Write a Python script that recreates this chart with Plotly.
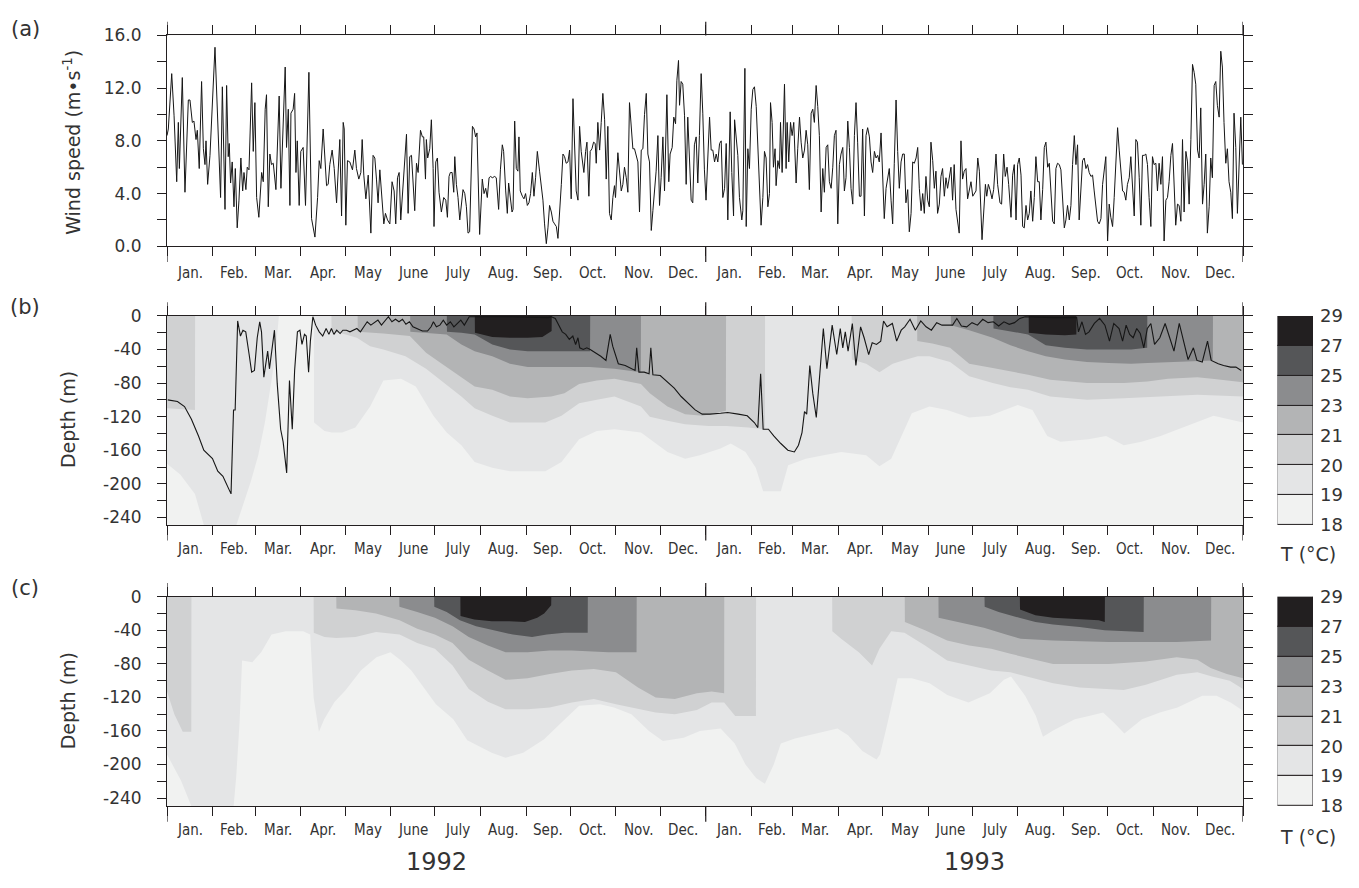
import plotly.graph_objects as go

W, H = 1359, 888

# ------------------------------------------------------------------ data
month_names = ["Jan.", "Feb.", "Mar.", "Apr.", "May", "June", "July", "Aug.", "Sep.", "Oct.", "Nov.", "Dec."]
month_start_days = [0, 31, 60, 91, 121, 152, 182, 213, 244, 274, 305, 335,
                    366, 397, 425, 456, 486, 517, 547, 578, 609, 639, 670, 700, 731]
year_labels = ["1992", "1993"]

temp_levels = ["18", "19", "20", "21", "23", "25", "27", "29"]
band_colors = ["#f1f2f1", "#e4e5e6", "#d0d1d2", "#b3b4b5", "#8b8c8e", "#555658", "#221f20"]

# daily wind speed (m/s), day 0 = 1 Jan 1992
wind_day = [
    0.0, 0.9, 3.2, 4.8, 6.6, 7.7, 8.4, 10.4, 12.2, 14.5,
    15.6, 17.2, 18.3, 19.7, 20.6, 21.9, 23.5, 24.7, 25.8, 26.5,
    27.6, 29.2, 32.6, 34.2, 36.4, 37.6, 39.4, 40.5, 41.6, 42.3,
    43.2, 44.3, 45.5, 46.4, 47.7, 48.9, 50.2, 51.4, 52.3, 53.6,
    54.5, 55.7, 57.5, 58.6, 59.7, 60.9, 62.4, 64.3, 65.4, 66.7,
    67.6, 68.8, 69.9, 71.0, 72.2, 74.0, 76.2, 77.4, 79.0, 80.3,
    81.2, 82.4, 83.5, 84.2, 85.7, 86.7, 87.6, 88.5, 89.8, 90.9,
    92.5, 94.1, 96.4, 98.2, 100.5, 102.3, 103.4, 104.5, 106.1, 107.2,
    108.4, 109.5, 110.6, 112.2, 113.6, 115.2, 116.3, 117.4, 118.6, 119.7,
    120.4, 121.5, 122.6, 124.2, 126.0, 127.6, 128.7, 130.3, 131.7, 132.6,
    133.7, 135.1, 136.7, 138.5, 140.0, 141.2, 142.3, 143.4, 144.6, 146.2,
    147.3, 148.4, 149.8, 151.4, 152.9, 154.3, 155.4, 156.6, 157.7, 158.8,
    160.4, 161.5, 162.7, 163.8, 164.9, 166.1, 167.2, 168.3, 169.5, 170.6,
    172.2, 173.5, 174.4, 175.6, 176.2, 177.1, 178.5, 179.6, 180.8, 181.4,
    182.6, 183.7, 184.8,
    186.4, 188.0, 189.4, 190.5, 191.6, 192.5, 193.7, 194.8, 195.5, 196.6,
    197.7, 198.9, 200.0, 201.1, 202.3, 203.4, 204.5, 205.6, 207.5, 208.6,
    209.7, 210.6, 212.4, 214.2, 215.4, 216.5, 217.6, 218.8, 219.9, 221.0,
    222.6, 223.7, 225.3, 226.5, 227.8, 228.7, 230.1, 231.2, 232.1, 233.2,
    234.4, 235.1, 236.2, 237.3, 238.4, 239.1, 240.0, 241.4, 242.5, 243.6,
    244.8, 245.9, 247.0, 248.2, 249.3, 250.4, 251.6, 253.1, 254.3, 255.4,
    256.5, 257.7, 258.8, 259.9, 261.1, 262.2, 263.3, 264.5, 265.6, 266.7,
    267.9, 269.0, 270.1, 271.2, 272.4, 273.5, 274.6, 275.8, 276.9, 278.0,
    279.2, 280.3, 281.4, 282.6, 283.2, 284.4, 285.3, 286.6, 287.5, 288.7,
    289.8, 290.9, 291.6, 292.7, 293.9, 295.0, 296.1, 297.3, 298.4, 299.5,
    300.6, 301.8, 302.9, 304.0, 304.7, 306.3, 307.4, 308.6, 309.7, 310.8,
    312.0, 313.1, 314.2, 315.4, 316.5, 317.6, 318.7, 319.9, 321.0, 322.2,
    323.3, 324.4, 325.6, 326.7, 327.8, 329.0, 330.1, 331.2, 332.3, 333.5,
    334.6, 335.7, 336.9, 338.0, 339.6, 340.9, 341.8, 343.2, 344.3, 345.5,
    346.4, 347.5, 348.2, 349.3, 350.4, 351.6, 352.7, 353.8, 354.9, 356.1,
    357.2, 358.3, 359.5, 360.6, 361.7, 362.9, 364.0, 365.1, 366.2, 367.4,
    368.6, 369.7, 370.8, 372.0, 373.1, 374.2, 375.4, 376.5, 377.6, 378.8,
    379.9, 381.0, 382.6, 383.7, 384.9, 385.6, 386.7, 387.8, 388.9, 390.5,
    391.2, 392.6, 393.5, 394.6, 395.7, 396.9, 398.0, 399.1, 400.3, 401.4,
    402.5, 403.6, 404.8, 405.9, 407.0, 408.2, 409.3, 410.0, 411.1, 412.0,
    413.1, 413.8, 415.0, 416.1, 416.8, 417.9, 419.5, 420.6, 421.3, 422.4,
    423.6, 424.7, 425.8, 427.4, 428.5, 429.7, 430.8, 431.9, 433.1, 434.2,
    435.3, 436.4, 437.6, 438.7, 439.8, 441.0, 442.1, 443.2, 444.4, 445.5,
    446.6, 447.8, 448.9, 450.0, 451.2, 452.3, 453.4, 454.5, 455.7, 456.8,
    457.9, 459.1, 460.2, 461.3, 462.5, 463.6, 464.7, 465.9, 467.0, 468.1,
    469.2, 470.4, 471.5, 472.6, 473.8, 474.9, 476.0, 477.2, 478.3, 479.4,
    480.6, 481.7, 482.8, 483.9, 485.1, 486.2, 487.3, 488.5, 489.6, 490.7,
    491.9, 493.0, 494.1, 495.3, 496.4, 497.5, 498.7, 499.8, 500.9, 502.0,
    503.2, 504.3, 505.5, 506.6, 507.7, 508.9, 510.0, 511.1, 512.3, 513.4,
    514.5, 515.6, 516.8, 517.9, 519.0, 520.2, 521.3, 522.4, 523.5, 524.7,
    525.8, 526.9, 528.1, 529.2, 530.3, 531.5, 532.6, 533.7, 534.8, 536.0,
    537.1, 538.2, 539.4, 540.5, 541.6, 542.8, 543.9, 545.0,
    546.2, 547.4, 548.5, 549.6, 550.8, 551.9, 553.7, 554.8, 556.0, 556.9,
    558.0, 559.1, 560.5, 561.6, 563.2, 564.3, 565.9, 567.0, 568.4, 569.5,
    570.7, 571.8, 573.4, 574.5, 575.6, 576.8, 577.9, 579.0, 580.2, 581.3,
    582.4, 583.6, 584.7, 585.8, 586.9, 588.1, 589.2, 590.3, 591.5, 592.6,
    593.7, 594.9, 596.0, 597.1, 598.3, 599.4, 600.5, 601.7, 602.8, 603.9,
    605.0, 606.2, 607.3, 608.4, 609.6, 610.7, 611.8, 613.0, 614.1, 615.2,
    616.4, 617.5, 618.6, 619.7, 620.9, 622.0, 623.1, 624.3, 625.4, 626.5,
    627.7, 628.8, 629.9, 631.1, 632.2, 633.3, 634.5, 635.6, 636.7, 637.8,
    639.0, 640.1, 641.2, 642.4, 643.5, 644.6, 645.8, 646.9, 648.0, 649.2,
    650.3, 651.4, 652.5, 653.7, 654.8, 655.9, 657.1, 658.2, 659.3, 660.5,
    661.6, 662.7, 663.9, 665.0, 666.1, 667.2, 668.4, 669.5, 670.6, 671.8,
    672.9, 674.0, 675.2, 676.3, 677.4, 678.6, 679.7, 680.8, 682.0, 683.1,
    684.2, 685.3, 686.5, 687.6, 688.8, 689.9, 691.0, 692.2, 693.3, 694.4,
    695.6, 696.7, 697.8, 698.9, 700.1, 701.2, 702.3, 703.5, 704.6, 705.7,
    706.8, 708.0, 709.1, 710.2, 711.4, 712.5, 713.6, 714.8, 715.9, 717.0,
    718.1, 719.3, 720.4, 721.5, 722.7, 723.8, 724.9, 726.1, 727.2, 728.3,
    729.5, 730.6,
]
wind_speed = [
    8.4, 8.9, 13.1, 9.9, 4.9, 9.4, 5.9, 12.8, 4.1, 11.1,
    11.1, 9.4, 9.5, 8.1, 8.8, 5.9, 12.5, 7.4, 6.2, 8.0,
    4.7, 6.9, 15.1, 10.6, 3.7, 12.1, 2.8, 12.2, 6.8, 7.8,
    4.8, 6.4, 3.0, 5.9, 1.4, 3.5, 6.7, 4.2, 5.6, 4.3,
    6.0, 5.8, 12.4, 7.2, 10.9, 3.7, 2.2, 5.6, 4.9, 10.4,
    11.5, 3.0, 7.0, 6.2, 6.3, 4.3, 11.4, 4.4, 8.9, 13.6,
    7.5, 10.4, 3.1, 10.1, 10.4, 11.6, 5.6, 8.0, 3.1, 7.2,
    7.5, 3.1, 13.2, 2.1, 0.7, 3.7, 6.5, 5.9, 8.9, 6.9,
    4.6, 4.7, 6.2, 7.3, 5.9, 3.3, 6.2, 8.1, 2.3, 9.4,
    8.9, 1.6, 6.5, 6.4, 5.8, 7.3, 5.9, 5.1, 5.6, 8.1,
    5.4, 3.6, 5.4, 1.0, 6.9, 6.7, 5.1, 3.3, 5.8, 3.5,
    1.7, 2.5, 2.0, 1.7, 4.9, 4.2, 1.7, 5.2, 5.6, 2.0,
    4.7, 6.9, 8.5, 2.5, 6.8, 6.9, 4.9, 2.7, 6.3, 5.6,
    8.8, 8.3, 8.3, 5.1, 8.1, 6.7, 7.4, 9.6, 5.9, 1.5,
    6.4, 6.7, 4.1,
    2.6, 3.7, 3.5, 2.2, 5.3, 5.6, 5.6, 4.1, 6.8, 4.7,
    3.7, 2.0, 3.2, 4.3, 4.0, 3.0, 1.0, 1.1, 9.1, 8.9,
    8.3, 8.6, 0.9, 5.1, 4.0, 4.4, 3.7, 5.2, 5.3, 5.2,
    5.3, 5.2, 2.8, 5.8, 7.7, 7.2, 4.2, 2.5, 4.8, 3.5,
    2.6, 2.8, 9.5, 5.9, 5.7, 8.3, 4.2, 3.8, 3.6, 4.0,
    3.1, 3.3, 4.0, 5.6, 3.8, 5.2, 7.2, 5.7, 4.4, 3.5,
    1.7, 0.2, 1.4, 3.1, 2.6, 1.9, 1.7, 1.5, 0.6, 3.1,
    4.7, 7.0, 6.8, 6.3, 6.4, 7.3, 3.6, 11.2, 8.3, 4.2,
    3.5, 9.1, 7.2, 5.8, 5.6, 7.2, 7.9, 3.8, 7.2, 7.4,
    7.9, 7.8, 6.3, 9.4, 7.3, 9.4, 11.6, 9.6, 5.1, 9.1,
    2.5, 2.0, 3.7, 4.6, 3.7, 7.1, 5.7, 4.2, 4.7, 6.0,
    5.2, 4.1, 10.9, 9.4, 7.4, 7.4, 6.8, 6.4, 2.6, 7.3,
    7.4, 10.0, 11.6, 7.0, 6.4, 1.2, 2.7, 4.0, 5.7, 8.4,
    3.1, 5.2, 8.3, 4.2, 11.5, 4.9, 7.0, 7.5, 9.8, 9.3,
    12.6, 14.1, 10.7, 12.5, 12.3, 9.9, 4.7, 9.8, 6.0, 3.5,
    3.3, 7.7, 8.3, 4.8, 8.4, 13.1, 10.1, 5.8, 3.5, 6.2,
    9.8, 7.3, 7.3, 6.4, 7.0, 6.4, 7.8, 8.0, 3.7, 4.4,
    7.8, 2.0, 10.2, 5.6, 2.3, 9.6, 8.4, 6.9, 3.7, 2.0,
    2.7, 13.5, 1.5, 7.4, 5.9, 10.4, 11.9, 12.1, 10.6, 7.2,
    4.4, 1.6, 3.7, 7.2, 6.7, 3.0, 4.0, 10.9, 9.4, 6.0,
    7.4, 4.6, 6.5, 5.9, 9.4, 5.6, 12.3, 5.9, 9.4, 6.4,
    9.4, 8.4, 9.4, 4.8, 7.4, 9.8, 7.9, 6.7, 7.3, 8.8,
    7.7, 4.3, 10.1, 10.4, 9.4, 12.2, 10.6, 8.4, 2.6, 5.9,
    4.1, 7.5, 7.7, 4.9, 4.4, 6.0, 8.4, 8.8, 1.7, 6.2,
    7.0, 7.5, 4.2, 5.2, 9.5, 7.5, 4.4, 3.2, 8.4, 10.9,
    7.9, 3.8, 3.8, 8.9, 2.3, 8.4, 9.0, 8.3, 6.4, 5.6,
    7.2, 6.7, 6.9, 6.4, 8.6, 4.4, 2.1, 4.4, 5.2, 5.9,
    3.5, 1.7, 6.3, 11.1, 7.2, 4.4, 6.4, 7.0, 7.0, 3.3,
    4.3, 1.1, 2.5, 6.4, 6.3, 6.7, 7.5, 4.4, 2.7, 4.0,
    2.5, 5.3, 3.5, 3.0, 7.9, 6.5, 4.4, 5.7, 2.5, 3.2,
    5.3, 5.9, 3.8, 5.2, 4.4, 5.1, 6.0, 3.5, 6.2, 2.8,
    2.0, 1.0, 8.0, 5.1, 5.7, 5.9, 3.6, 4.4,
    4.9, 3.8, 4.0, 4.2, 6.7, 5.7, 0.5, 3.0, 4.7, 3.8,
    4.7, 4.3, 3.6, 4.3, 7.0, 4.7, 3.3, 3.2, 7.0, 5.3,
    6.0, 4.7, 2.2, 5.4, 6.2, 2.0, 6.2, 6.7, 5.4, 1.5,
    1.4, 3.1, 2.0, 2.5, 4.2, 1.9, 3.7, 6.8, 4.9, 4.9,
    2.0, 4.3, 7.5, 7.9, 6.0, 6.3, 4.4, 1.9, 1.7, 5.9,
    6.3, 6.2, 5.8, 3.7, 1.4, 2.0, 3.1, 2.0, 3.1, 6.2,
    8.4, 6.2, 7.7, 2.0, 4.9, 6.5, 6.7, 5.9, 6.2, 5.6,
    5.3, 5.4, 4.2, 3.0, 1.9, 1.7, 2.1, 4.7, 5.9, 6.8,
    0.4, 3.2, 2.2, 1.5, 3.7, 6.9, 9.0, 7.3, 5.7, 4.2,
    4.1, 3.5, 4.7, 5.2, 6.8, 4.2, 2.3, 8.1, 7.9, 5.2,
    1.6, 6.9, 6.9, 7.0, 6.2, 3.7, 1.5, 6.8, 6.2, 6.3,
    4.2, 6.3, 4.7, 6.8, 0.4, 3.5, 3.7, 4.9, 6.9, 7.8,
    4.4, 1.6, 3.2, 3.1, 1.9, 8.1, 2.6, 7.2, 6.4, 3.2,
    8.1, 13.8, 13.2, 12.3, 7.3, 6.7, 10.5, 3.2, 4.7, 7.0,
    1.0, 3.0, 6.7, 5.2, 12.2, 12.5, 10.7, 9.8, 14.8, 13.6,
    9.4, 6.3, 7.4, 4.9, 4.1, 2.1, 10.1, 7.5, 2.5, 6.2,
    9.8, 6.2,
]

# mixed-layer depth (m) drawn in panel (b)
mld_day = [
    0.5, 7.1, 11.9, 16.6, 21.4, 25, 30.9, 34.5, 38, 41.6,
    43.5, 45.2, 46.3, 48, 49.9, 51.6, 53.5, 55.8, 57.5, 59.4,
    61.3, 63, 64.2, 65.8, 67.3, 68.4, 69.6, 71.3, 73, 74.9,
    77.2, 78.9, 81.3, 83.2, 85.1, 86.7, 88.6, 90.3, 91.7, 93.4,
    94.6, 96.2, 97.4, 99.1, 101, 103.4, 105.8, 108.1, 110, 111.7,
    113.4, 115.3, 117.6, 119.5, 121.9, 124.3, 126.7, 129, 131.4, 133.6,
    136, 138.5, 140.8, 143.3, 145.7, 148, 150.4, 152.8, 155.2, 157.6,
    160, 162.3, 164.7, 167.1, 170, 173.5, 177, 179.4, 181, 183,
    185.4, 187.7, 190, 192.5, 194.9, 197.2, 199.6, 202, 204.4, 205.3,
    209, 233, 259, 261.2, 263.8, 266, 268.5, 270.9, 273.3, 275.7,
    277.6, 279.2, 280.4, 282.8, 285.2, 287.5, 291.1, 294.7, 298.2, 301.1,
    302.8, 306.6, 311.3, 316.1, 318, 319.1, 320.6, 324.2, 327.5, 328.7,
    330.1, 335.1, 339.8, 344.6, 349.3, 354.1, 358.8, 363.6, 368.9, 376.1,
    380.9, 388.1, 394.2, 399, 401.4, 403.3, 405, 408.6, 412.2, 417,
    421.8, 426.2, 429, 431.4, 433.1, 434.6, 436.7, 438.7, 441.1, 443.5,
    445.9, 448.3, 451.9, 455, 457.4, 459.1, 460.8, 462.7, 465.6, 468,
    471.2, 473.6, 476.7, 479.1, 482, 484.9, 486.8, 489.2, 492.8, 495.7,
    498.8, 501.2, 504.8, 508.4, 512.1, 515.7, 519.3, 522.9, 526.5, 530.1,
    533.7, 536.6, 539.7, 543.3, 546.9, 550.6, 554.2, 557.8, 561.4, 565,
    568.6, 572.2, 575.8, 579.4, 583, 602.3, 618, 619.2, 621.6, 624,
    626.4, 630, 633.6, 637.2, 640.3, 643.2, 646.8, 649.2, 651.6, 654,
    656.4, 658.8, 661.2, 663.6, 666, 668.4, 670.9, 674.5, 678.1, 681.2,
    684.1, 687.7, 690.8, 693.7, 697.3, 699.7, 703.3, 706.9, 709.4, 714.2,
    717.8, 722.6, 726.2, 729.8,
]
mld_depth = [
    -100, -102, -108, -123, -143, -160, -170, -185, -191, -205,
    -212, -112, -112, -6, -24, -17, -19, -46, -67, -65,
    -26, -7, -19, -73, -57, -42, -63, -38, -17, -81,
    -135, -150, -187, -77, -135, -65, -19, -17, -34, -22,
    -24, -67, -30, -1, -11, -19, -24, -15, -22, -15,
    -22, -17, -21, -17, -17, -19, -17, -15, -19, -13,
    -7, -11, -8, -5, -11, -6, -1, -7, -4, -7,
    -4, -10, -7, -13, -15, -18, -18, -13, -7, -13,
    -11, -5, -11, -7, -13, -9, -5, -11, -3, -1,
    -1, -1, -2, -1, -3, -11, -19, -22, -28, -24,
    -34, -26, -38, -40, -38, -40, -44, -48, -53, -22,
    -36, -57, -59, -63, -65, -38, -67, -67, -69, -38,
    -70, -71, -79, -86, -96, -104, -112, -117, -117, -116,
    -115, -117, -119, -127, -133, -69, -135, -135, -143, -152,
    -160, -162, -154, -139, -114, -117, -59, -92, -121, -69,
    -15, -63, -11, -46, -15, -38, -19, -42, -9, -59,
    -13, -26, -46, -32, -34, -30, -6, -13, -9, -30,
    -17, -13, -4, -17, -6, -13, -17, -8, -11, -11,
    -11, -3, -12, -13, -8, -11, -4, -8, -7, -12,
    -7, -10, -8, -3, -1, -2, -2, -19, -7, -22,
    -19, -9, -3, -11, -30, -9, -15, -30, -11, -22,
    -26, -15, -21, -38, -15, -9, -34, -26, -9, -26,
    -42, -9, -30, -52, -38, -53, -55, -30, -53, -57,
    -59, -61, -61, -65,
]

# isotherm depths (m), panel (b)
iso19_b_day = [0, 9, 19, 26, 46, 52, 57, 62, 66.5, 71, 74, 76, 99.8, 99.9, 107, 112, 119, 128, 138, 147,
               159, 169, 181, 190, 200, 209, 221, 233, 257, 268, 280, 292, 304, 322, 328, 340, 352, 362, 376, 383,
               393, 400, 405, 417, 422, 434, 446, 458, 475, 484, 492, 499, 506, 518, 530, 545, 559, 569, 578, 588,
               598, 607, 626, 638, 650, 662, 675, 699, 711, 731]
iso19_b_dep = [-176, -189, -212, -255, -255, -222, -197, -166, -127, -77, -40, 0, 0, -127, -137, -139, -139, -133, -108, -77,
               -75, -84, -119, -139, -154, -174, -181, -185, -185, -174, -147, -137, -135, -139, -147, -162, -170, -166, -158, -152,
               -162, -181, -209, -209, -178, -170, -166, -162, -166, -179, -170, -143, -116, -108, -112, -121, -119, -112, -106, -112,
               -143, -150, -147, -143, -154, -150, -143, -127, -119, -127]
iso20_b_day = [0, 19, 19.1, 111.7, 111.8, 119, 129, 138, 147, 162, 176, 185, 200, 209, 221, 233, 257, 268, 280, 292,
               304, 322, 328, 340, 352, 368, 380, 395, 406.2, 406.3, 465.1, 465.2, 475, 484, 493, 500, 510, 518, 532, 545,
               561, 573, 585, 600, 625, 650, 675, 700, 731]
iso20_b_dep = [-110, -112, 0, 0, -19, -21, -26, -36, -40, -48, -63, -75, -96, -110, -119, -127, -127, -119, -104, -100,
               -96, -108, -120, -125, -129, -131, -131, -133, -135, 0, 0, -52, -57, -67, -57, -53, -48, -48, -55, -72,
               -80, -85, -88, -96, -100, -98, -96, -94, -96]
iso21_b_day = [0, 129.5, 129.6, 147, 165, 176, 185, 200, 209, 221, 233, 245, 261, 270, 280, 292, 304, 322, 328, 340,
               352, 364, 379.7, 379.8, 509.6, 509.7, 520, 532, 545, 561, 585, 600, 625, 650, 666, 680, 700, 710, 731]
iso21_b_dep = [0, 0, -19, -21, -24, -44, -55, -73, -84, -88, -96, -98, -96, -92, -81, -77, -75, -81, -92, -108,
               -117, -119, -113, 0, 0, -30, -33, -38, -57, -62, -70, -76, -80, -80, -78, -75, -73, -75, -79]
iso23_b_day = [0, 165.2, 165.3, 180, 190, 200, 209, 221, 233, 245, 261, 275, 287, 304, 321.9, 322, 532.5, 532.6, 545, 561,
               573, 585, 597, 610, 625, 640, 655, 666, 680, 695, 710.5, 710.6, 731]
iso23_b_dep = [0, 0, -19, -21, -22, -34, -42, -48, -57, -61, -61, -61, -61, -63, -67, 0, 0, -11, -17, -26,
               -35, -42, -48, -52, -55, -56, -57, -56, -55, -54, -53, 0, 0]
iso25_b_day = [0, 190.1, 190.2, 200, 209, 221, 233, 245, 261, 275, 287.4, 287.5, 561.4, 561.5, 573, 585, 597, 610, 625, 640,
               655, 665.9, 666, 731]
iso25_b_dep = [0, 0, -19, -20, -22, -34, -40, -42, -42, -42, -42, 0, 0, -15, -18, -22, -35, -38, -40, -40,
               -40, -38, 0, 0]
iso27_b_day = [0, 209.1, 209.2, 221, 233, 245, 255, 261.3, 261.4, 585.4, 585.5, 597, 610, 617.8, 617.9, 731]
iso27_b_dep = [0, 0, -20, -25, -26, -26, -25, -18, 0, 0, -20, -22, -23, -22, 0, 0]

# isotherm depths (m), panel (c)
iso19_c_day = [0, 9.5, 17.8, 45, 47, 49.3, 51, 58, 64, 71, 80.7, 92.5, 97.3, 99.6, 103.2, 106.8, 113.9, 121, 131.7, 142.3,
               151.8, 159, 166, 173.2, 182.7, 194.5, 204, 220.6, 230, 242, 256.2, 268, 280, 294.2, 303.7, 315.5, 327.4, 336.9, 351, 362,
               376.1, 385.7, 393, 400.2, 406.2, 412.2, 417, 426.6, 441.1, 455.5, 462.7, 472.4, 482, 484.4, 489.2, 496.4, 506, 518.1, 530.1, 544.5,
               559, 568.6, 573.4, 583, 590.3, 595.1, 602.3, 616.7, 626.3, 636, 643.2, 650.4, 662.4, 674.5, 686.5, 703.3, 713, 722.6, 731]
iso19_c_dep = [-188, -219, -255, -255, -215, -150, -76, -78, -66, -45, -41, -41, -45, -120, -161, -146, -125, -112, -88, -72,
               -66, -76, -88, -105, -128, -146, -171, -186, -192, -186, -170, -150, -130, -128, -132, -140, -160, -172, -168, -160,
               -157, -175, -200, -216, -223, -200, -175, -169, -163, -157, -165, -184, -194, -188, -153, -97, -97, -103, -117, -126,
               -115, -99, -95, -118, -142, -167, -159, -146, -142, -138, -150, -163, -146, -138, -132, -118, -118, -126, -136]
iso20_c_day = [0, 5, 10.7, 16.5, 16.6, 99.6, 99.7, 107, 115, 128, 142, 158, 170, 182, 194, 205, 218, 230, 245, 260,
               275, 290, 305, 320, 332, 345, 360, 370, 378.5, 386, 400.1, 400.2, 451.9, 452, 458, 470, 479, 484, 492, 501,
               515, 530, 545, 560, 573, 585, 602, 620, 640, 650, 665, 686, 700, 710, 722, 731]
iso20_c_dep = [-113, -140, -161, -161, 0, 0, -43, -48, -49, -48, -42, -45, -55, -62, -82, -110, -125, -134, -134, -132,
               -126, -122, -128, -134, -138, -140, -135, -126, -126, -142, -142, 0, 0, -41, -50, -66, -82, -62, -41, -43,
               -58, -76, -82, -88, -90, -95, -103, -108, -110, -111, -105, -93, -90, -95, -100, -110]
iso21_c_day = [0, 115, 115.1, 128, 142, 158, 170, 182, 194, 205, 218, 230, 245, 260, 275, 290, 305, 320, 332, 345,
               360, 370, 378.5, 378.6, 501.2, 501.3, 515, 530, 545, 560, 573, 583, 602, 620, 640, 665, 686, 700, 709, 720, 731]
iso21_c_dep = [0, 0, -14, -16, -20, -28, -38, -45, -55, -75, -88, -99, -97, -92, -88, -86, -90, -108, -120, -122,
               -115, -113, -115, 0, 0, -30, -40, -52, -58, -62, -68, -72, -80, -80, -80, -77, -72, -75, -85, -92, -97]
iso23_c_day = [0, 157.8, 157.9, 170, 182, 194, 205, 218, 230, 245, 260, 275, 300, 319, 319.1, 524.1, 524.2, 540, 555, 570,
               580, 602, 620, 640, 665, 686, 709.3, 709.4, 731]
iso23_c_dep = [0, 0, -12, -18, -25, -35, -48, -58, -66, -66, -64, -64, -66, -66, 0, 0, -25, -31, -37, -45,
               -50, -52, -53, -54, -54, -54, -52, 0, 0]
iso25_c_day = [0, 181.5, 181.6, 190, 199, 210, 222, 235, 248, 258, 270, 285.8, 285.9, 555.4, 555.5, 565, 579, 590, 602, 620,
               637, 650, 663.5, 663.6, 731]
iso25_c_dep = [0, 0, -12, -18, -28, -35, -40, -45, -48, -45, -43, -43, 0, 0, -12, -18, -25, -30, -33, -36,
               -40, -41, -42, 0, 0]
iso27_c_day = [0, 199.3, 199.4, 208.8, 220.6, 232.5, 243.2, 251.5, 256.2, 261, 261.1, 579.4, 579.5, 590, 602, 615, 625, 633, 637.1, 637.2, 731]
iso27_c_dep = [0, 0, -23, -27, -29, -29, -30, -25, -20, -10, 0, 0, -15, -22, -25, -26, -27, -28, -30, 0, 0]

# ------------------------------------------------------------------ styling
AX = "#231f20"
TXT = "#333333"
FONT = "DejaVu Sans, sans-serif"
MFONT = "Liberation Sans Narrow, DejaVu Sans Condensed, Arial Narrow, sans-serif"


def py(p):
    return 1 - p / H


X_DOM = [167 / W, 1243 / W]
A_DOM = [py(241), py(25)]
B_DOM = [py(526.4), py(312.3)]
C_DOM = [py(814.3), py(600)]
CB_DOM = [1277.5 / W, 1313 / W]

fig = go.Figure()

# panel (a): wind speed
fig.add_trace(go.Scatter(x=wind_day, y=wind_speed, mode="lines",
                         line=dict(color="#161616", width=1), xaxis="x", yaxis="y",
                         hoverinfo="skip", showlegend=False))

iso_b = [(iso19_b_day, iso19_b_dep), (iso20_b_day, iso20_b_dep), (iso21_b_day, iso21_b_dep),
         (iso23_b_day, iso23_b_dep), (iso25_b_day, iso25_b_dep), (iso27_b_day, iso27_b_dep)]
iso_c = [(iso19_c_day, iso19_c_dep), (iso20_c_day, iso20_c_dep), (iso21_c_day, iso21_c_dep),
         (iso23_c_day, iso23_c_dep), (iso25_c_day, iso25_c_dep), (iso27_c_day, iso27_c_dep)]

for isos, xa, ya in [(iso_b, "x2", "y2"), (iso_c, "x3", "y3")]:
    for (d, z), col in zip(isos, band_colors[1:]):
        fig.add_trace(go.Scatter(x=d, y=z, mode="lines", fill="tozeroy", fillcolor=col,
                                 line=dict(width=0, color=col), xaxis=xa, yaxis=ya,
                                 hoverinfo="skip", showlegend=False))

fig.add_trace(go.Scatter(x=mld_day, y=mld_depth, mode="lines",
                         line=dict(color="#161616", width=1.1), xaxis="x2", yaxis="y2",
                         hoverinfo="skip", showlegend=False))

# colour keys
for xa, ya in [("x4", "y4"), ("x5", "y5")]:
    fig.add_trace(go.Bar(x=[0] * 7, y=[1] * 7, base=list(range(7)), width=[1] * 7,
                         marker=dict(color=band_colors, line=dict(color=AX, width=1)),
                         xaxis=xa, yaxis=ya, hoverinfo="skip", showlegend=False))

xcommon = dict(range=[0, 731], tickvals=month_start_days, showticklabels=False,
               ticks="outside", ticklen=9, tickwidth=1, tickcolor=AX,
               showline=True, linecolor=AX, linewidth=1, mirror="ticks",
               showgrid=False, zeroline=False, fixedrange=True)
ycommon = dict(ticks="outside", ticklen=9, tickwidth=1, tickcolor=AX,
               showline=True, linecolor=AX, linewidth=1, mirror="ticks",
               showgrid=False, zeroline=False, fixedrange=True,
               tickfont=dict(family=FONT, size=17, color=TXT), ticklabelstandoff=12)

wind_major = [0, 4, 8, 12, 16]
wind_labels = ["0.0", "4.0", "8.0", "12.0", "16.0"]
wind_minor = [2, 6, 10, 14]
depth_major = [0, -40, -80, -120, -160, -200, -240]
depth_labels = ["0", "-40", "-80", "-120", "-160", "-200", "-240"]
depth_minor = [-20, -60, -100, -140, -180, -220]
minor_style = dict(ticks="outside", ticklen=9, tickwidth=1, tickcolor=AX)

cb_y = dict(range=[0, 7], tickvals=list(range(8)), ticktext=temp_levels, side="right",
            ticks="", showline=False, showgrid=False, zeroline=False, fixedrange=True,
            tickfont=dict(family=FONT, size=18, color=TXT), ticklabelstandoff=6)
cb_x = dict(range=[-0.5, 0.5], visible=False, fixedrange=True)

fig.update_layout(
    width=W, height=H, autosize=False,
    margin=dict(l=0, r=0, t=0, b=0),
    paper_bgcolor="white", plot_bgcolor=band_colors[0],
    showlegend=False, bargap=0,
    xaxis=dict(domain=X_DOM, anchor="y", **xcommon),
    yaxis=dict(domain=A_DOM, anchor="x", range=[0, 16], tickvals=wind_major, ticktext=wind_labels,
               minor=dict(tickvals=wind_minor, **minor_style), **ycommon),
    xaxis2=dict(domain=X_DOM, anchor="y2", **xcommon),
    yaxis2=dict(domain=B_DOM, anchor="x2", range=[-249, 0], tickvals=depth_major, ticktext=depth_labels,
                minor=dict(tickvals=depth_minor, **minor_style), **ycommon),
    xaxis3=dict(domain=X_DOM, anchor="y3", **xcommon),
    yaxis3=dict(domain=C_DOM, anchor="x3", range=[-249.5, 0], tickvals=depth_major, ticktext=depth_labels,
                minor=dict(tickvals=depth_minor, **minor_style), **ycommon),
    xaxis4=dict(domain=CB_DOM, anchor="y4", **cb_x),
    yaxis4=dict(domain=B_DOM, anchor="x4", **cb_y),
    xaxis5=dict(domain=CB_DOM, anchor="y5", **cb_x),
    yaxis5=dict(domain=C_DOM, anchor="x5", **cb_y),
)
# panel (a) background is white
fig.add_shape(type="rect", xref="x domain", yref="y domain", x0=0, x1=1, y0=0, y1=1,
              fillcolor="white", line=dict(width=0), layer="below")

# long ticks at year boundaries
for xa, ya, hpx in [("x", "y", 216), ("x2", "y2", 214), ("x3", "y3", 214)]:
    for d in [0, 366, 731]:
        fig.add_shape(type="line", xref=xa, yref=ya + " domain", x0=d, x1=d, y0=0, y1=-16 / hpx,
                      line=dict(color=AX, width=1.2))
        fig.add_shape(type="line", xref=xa, yref=ya + " domain", x0=d, x1=d, y0=1, y1=1 + 14 / hpx,
                      line=dict(color=AX, width=1.2))

ann = []
# month labels under each panel
for ypx in [268, 551, 839]:
    for i in range(24):
        mid = (month_start_days[i] + month_start_days[i + 1]) / 2
        ann.append(dict(x=mid, xref="x", y=py(ypx), yref="paper", text=month_names[i % 12],
                        showarrow=False, font=dict(family=MFONT, size=15, color=TXT),
                        xanchor="center", yanchor="middle"))
# year labels
for i, yl in enumerate(year_labels):
    mid = (month_start_days[12 * i] + month_start_days[12 * i + 12]) / 2
    ann.append(dict(x=mid, xref="x", y=py(872), yref="paper", text=yl, showarrow=False,
                    font=dict(family=FONT, size=24, color=TXT), xanchor="center", yanchor="middle"))
# panel letters
for lab, ypx in [("(a)", 18), ("(b)", 303), ("(c)", 591)]:
    ann.append(dict(x=25 / W, xref="paper", y=py(ypx), yref="paper", text=lab, showarrow=False,
                    font=dict(family=FONT, size=21, color=TXT), xanchor="center", yanchor="middle"))
# axis titles
ann.append(dict(x=72 / W, xref="paper", y=py(135), yref="paper", text="Wind speed (m•s<sup>-1</sup>)",
                textangle=-90, showarrow=False, font=dict(family=FONT, size=19, color=TXT),
                xanchor="center", yanchor="middle"))
for ypx in [419, 707]:
    ann.append(dict(x=68 / W, xref="paper", y=py(ypx), yref="paper", text="Depth (m)",
                    textangle=-90, showarrow=False, font=dict(family=FONT, size=19, color=TXT),
                    xanchor="center", yanchor="middle"))
for ypx in [556, 846]:
    ann.append(dict(x=1308 / W, xref="paper", y=py(ypx), yref="paper", text="T (°C)",
                    showarrow=False, font=dict(family=FONT, size=19, color=TXT),
                    xanchor="center", yanchor="middle"))
fig.update_layout(annotations=ann)

fig.write_html("out.html", config={"displayModeBar": False},
               post_script="document.body.style.margin='0';document.body.style.overflow='hidden';")
